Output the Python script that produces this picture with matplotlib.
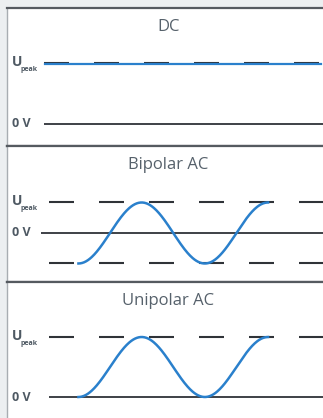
import numpy as np
import matplotlib.pyplot as plt

plt.rcParams['font.family'] = ['Open Sans', 'DejaVu Sans']
plt.rcParams['lines.scale_dashes'] = False

# panel titles
titles = ['DC', 'Bipolar AC', 'Unipolar AC']

# wave: x in periods, starts at a trough, runs 1.5 periods
wave_start = 0.0
wave_end = 1.5
u_peak = 1.0

# reference line extents (x in periods) per panel
zero_line_x = [(-0.274, 1.944), (-0.298, 1.944), (-0.234, 1.99)]
dash_start = [-0.274, -0.234, -0.234]
dc_line_x = (-0.266, 1.919)
dc_level = 0.98

# y limits per panel (voltage units)
ylims = [(-0.361, 1.902), (-1.607, 2.852), (-0.35, 1.917)]

blue = '#2a80cc'
dark = '#2f3338'
text_col = '#4e5963'
bg = '#eceff1'

fig = plt.figure(figsize=(3.23, 4.18), dpi=100, facecolor=bg)

# axes boxes in figure fraction: [left, bottom, width, height]
boxes = [[7 / 323, 272 / 418, 1.0, 138 / 418],
         [7 / 323, 136 / 418, 1.0, 136 / 418],
         [7 / 323, 0.0, 1.0, 136 / 418]]

t = np.linspace(wave_start, wave_end, 300)

for i, box in enumerate(boxes):
    ax = fig.add_axes(box)
    ax.set_facecolor('white')
    ax.set_xlim(-0.565, 1.99)
    ax.set_ylim(*ylims[i])
    ax.set_xticks([])
    ax.set_yticks([])
    for side in ['top', 'bottom']:
        ax.spines[side].set_color('#555a60')
        ax.spines[side].set_linewidth(1.6)
    if i == 2:
        ax.spines['bottom'].set_visible(False)
    ax.spines['left'].set_color('#a8adb2')
    ax.spines['left'].set_linewidth(1.0)
    ax.spines['right'].set_visible(False)

    x0, x1 = zero_line_x[i]
    ax.plot([x0, x1], [0, 0], color=dark, lw=1.3, solid_capstyle='butt')

    # dashed U_peak reference
    dash_style = (0, (18, 18))
    ax.plot([dash_start[i], 2.0], [u_peak, u_peak], color=dark, lw=1.5,
            linestyle=dash_style, dash_capstyle='butt')

    if i == 0:
        ax.plot(dc_line_x, [dc_level, dc_level], color=blue, lw=1.6)
    elif i == 1:
        ax.plot([dash_start[i], 2.0], [-u_peak, -u_peak], color=dark, lw=1.5,
                linestyle=dash_style, dash_capstyle='butt')
        ax.plot(t, -u_peak * np.cos(2 * np.pi * t), color=blue, lw=1.8)
    else:
        ax.plot(t, u_peak * (1 - np.cos(2 * np.pi * t)) / 2, color=blue, lw=1.8)

    ax.text(0.5, 0.86, titles[i], transform=ax.transAxes, ha='center',
            va='center', fontsize=12, color='#56616b')
    span = ylims[i][1] - ylims[i][0]
    ax.text(-0.527, u_peak + span * 0.01, 'U', ha='left', va='center',
            fontsize=10, fontweight='bold', color=text_col)
    ax.text(-0.458, u_peak - span * 0.045, 'peak', ha='left', va='center',
            fontsize=5, fontweight='bold', color=text_col)
    ax.text(-0.527, 0, '0 V', ha='left', va='center', fontsize=9,
            fontweight='bold', color=text_col)

fig.savefig('out.png', dpi=100, facecolor=bg)
